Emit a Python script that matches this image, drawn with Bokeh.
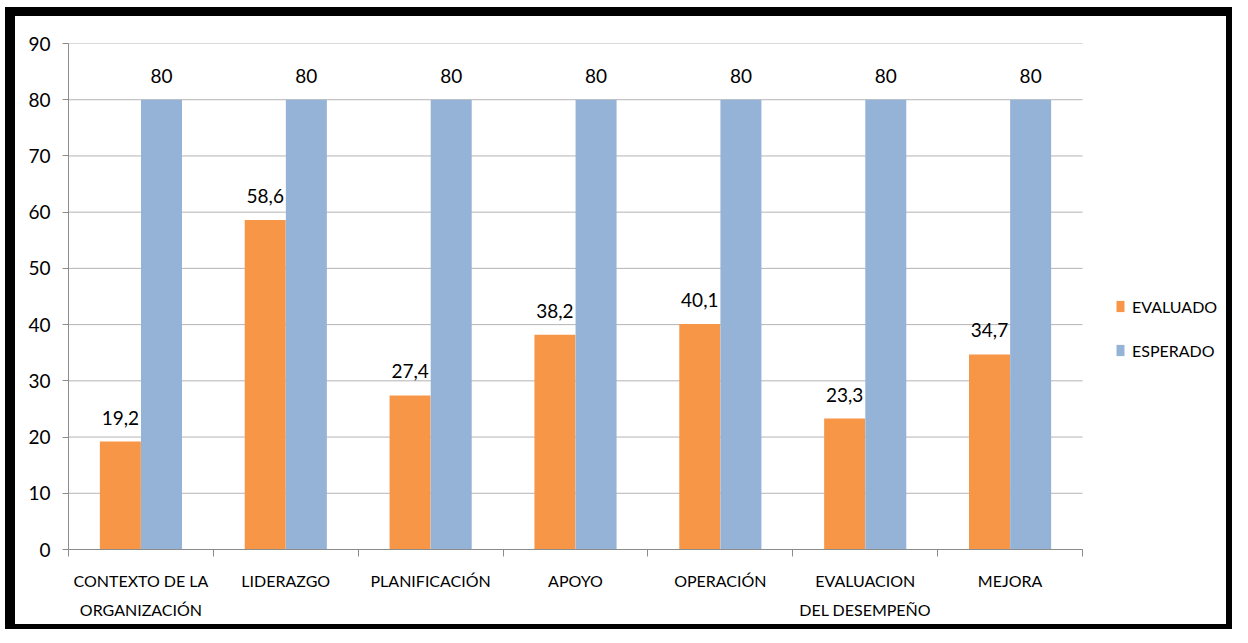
from bokeh.plotting import figure
from bokeh.models import (Range1d, FixedTicker, Legend, LegendItem, ColumnDataSource)
from bokeh.embed import file_html
from bokeh.resources import INLINE
from bokeh.core.properties import value

categories = ["CONTEXTO DE LA\nORGANIZACIÓN", "LIDERAZGO", "PLANIFICACIÓN", "APOYO",
              "OPERACIÓN", "EVALUACION\nDEL DESEMPEÑO", "MEJORA"]
evaluado = [19.2, 58.6, 27.4, 38.2, 40.1, 23.3, 34.7]
esperado = [80, 80, 80, 80, 80, 80, 80]
y_ticks = [0, 10, 20, 30, 40, 50, 60, 70, 80, 90]

ORANGE = "#F79646"
BLUE = "#95B3D7"
FONT = "Lato"

n = len(categories)
centers = [i + 0.5 for i in range(n)]
off = 0.142
bw = 0.283

W, H = 1227, 622
ML, MT, MB = 53, 27, 89
cat_px = (1067 - 53) / n
x_end = (W - ML) / cat_px

p = figure(width=W, height=H, output_backend="svg", toolbar_location=None,
           x_range=Range1d(0, x_end), y_range=Range1d(0, 90),
           min_border_left=ML, min_border_right=0, min_border_top=MT, min_border_bottom=MB)
p.outline_line_color = None
p.background_fill_color = "white"
p.border_fill_color = "white"
p.styles = {"border-style": "solid", "border-color": "black",
            "border-width": "9px 6px 5px 10px", "margin": "7px 0px 0px 5px"}

# horizontal grid lines limited to the plot area of the categories
p.segment(x0=[0] * len(y_ticks), x1=[n] * len(y_ticks), y0=y_ticks, y1=y_ticks,
          line_color="#b4b4b4", line_width=1)

src_e = ColumnDataSource(dict(x=[c - off for c in centers], top=evaluado,
                              lab=[str(v).replace(".", ",") for v in evaluado]))
src_s = ColumnDataSource(dict(x=[c + off for c in centers], top=esperado,
                              lab=[str(v) for v in esperado]))

r1 = p.vbar(x="x", top="top", width=bw, source=src_e, fill_color=ORANGE, line_color=None)
r2 = p.vbar(x="x", top="top", width=bw, source=src_s, fill_color=BLUE, line_color=None)

for src in (src_e, src_s):
    p.text(x="x", y="top", text="lab", source=src, y_offset=-24, text_align="center",
           text_baseline="middle", text_font=value(FONT), text_font_size="19px",
           text_color="black")

# y axis
p.yaxis.ticker = FixedTicker(ticks=y_ticks)
p.yaxis.axis_line_color = "#8c8c8c"
p.yaxis.major_tick_line_color = "#8c8c8c"
p.yaxis.major_tick_out = 6
p.yaxis.major_tick_in = 0
p.yaxis.minor_tick_line_color = None
p.yaxis.major_label_text_font = FONT
p.yaxis.major_label_text_font_size = "19px"
p.yaxis.major_label_text_color = "black"
p.yaxis.major_label_standoff = 12

# x axis
p.xaxis.ticker = FixedTicker(ticks=centers, minor_ticks=list(range(n + 1)))
p.xaxis.bounds = (0, n)
p.xaxis.major_label_overrides = {c: lab for c, lab in zip(centers, categories)}
p.xaxis.axis_line_color = "#8c8c8c"
p.xaxis.major_tick_line_color = None
p.xaxis.minor_tick_line_color = "#8c8c8c"
p.xaxis.minor_tick_out = 7
p.xaxis.minor_tick_in = 0
p.xaxis.major_label_text_font = FONT
p.xaxis.major_label_text_font_size = "16px"
p.xaxis.major_label_text_color = "black"
p.xaxis.major_label_standoff = 14
p.xaxis.major_label_text_line_height = 1.55

p.xgrid.grid_line_color = None
p.ygrid.grid_line_color = None

legend = Legend(items=[LegendItem(label="EVALUADO", renderers=[r1]),
                       LegendItem(label="ESPERADO", renderers=[r2])],
                location=(1047, 189), orientation="vertical")
legend.border_line_color = None
legend.background_fill_alpha = 0
legend.padding = 0
legend.margin = 0
legend.glyph_width = 10
legend.glyph_height = 14
legend.label_height = 20
legend.label_standoff = 7
legend.spacing = 24
legend.label_text_font = FONT
legend.label_text_font_size = "16px"
legend.label_text_color = "black"
p.add_layout(legend, "center")

open("out.html", "w").write(file_html(p, INLINE))
